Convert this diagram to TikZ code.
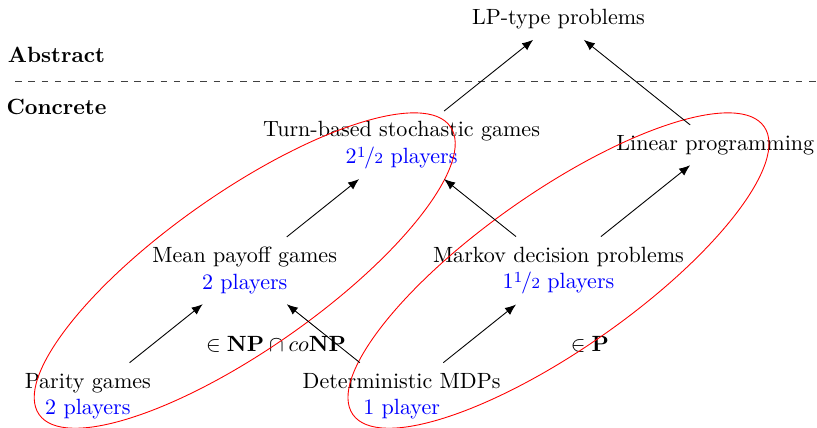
\documentclass[tikz,border=0pt]{standalone}
\usetikzlibrary{arrows.meta}

% small "a b/c" style fraction for the player counts
\newcommand{\halfplayers}[1]{#1\raisebox{.6ex}{\scriptsize 1}\kern-.06em/\kern-.04em{\scriptsize 2}}

\tikzset{
  prob/.style={align=center, inner sep=4.5pt, yshift=-0.9pt},
  impl/.style={-{Latex[length=5pt,width=4pt]}, thin},
  class/.style={red, thin},
  tag/.style={font=\bfseries},
}

\begin{document}
\begin{tikzpicture}
  \useasboundingbox (-1.40,-0.53) rectangle (11.62,6.28);

  % abstract / concrete divider
  \node[tag] (abs) at (-0.5,5.41) {Abstract};
  \node[tag] (con) at (-0.5,4.57) {Concrete};
  \coordinate (divl) at (-1.16,4.98);
  \coordinate (divr) at (11.62,4.98);
  \draw[dashed, black!75] (divl) -- (divr);

  % problems
  \node[prob] (lpt) at (7.5,6) {LP-type problems};
  \node[prob] (tbs) at (5,4) {Turn-based stochastic games\\ {\color{blue}\halfplayers{2} players}};
  \node[prob] (lin) at (10,4) {Linear programming};
  \node[prob] (mpg) at (2.5,2) {Mean payoff games\\ {\color{blue}2 players}};
  \node[prob] (mdp) at (7.5,2) {Markov decision problems\\ {\color{blue}\halfplayers{1} players}};
  \node[prob] (par) at (0,0) {Parity games\\ {\color{blue}2 players}};
  \node[prob] (dmdp) at (5,0) {Deterministic MDPs\\ {\color{blue}1 player}};

  % complexity classes
  \node (npc) at (3.0,0.8) {$\in \mathbf{NP}\cap co\mathbf{NP}$};
  \node (pc) at (8.0,0.8) {$\in \mathbf{P}$};

  \draw[class, rotate around={35:(mpg.center)}] (mpg.center) ellipse [x radius=4cm, y radius=1.25cm];
  \draw[class, rotate around={35:(mdp.center)}] (mdp.center) ellipse [x radius=4cm, y radius=1.25cm];

  % reductions
  \draw[impl] (par) -- (mpg);
  \draw[impl] (mpg) -- (tbs);
  \draw[impl] (tbs) -- (lpt);
  \draw[impl] (lin) -- (lpt);
  \draw[impl] (dmdp) -- (mpg);
  \draw[impl] (dmdp) -- (mdp);
  \draw[impl] (mdp) -- (tbs);
  \draw[impl] (mdp) -- (lin);
\end{tikzpicture}
\end{document}
